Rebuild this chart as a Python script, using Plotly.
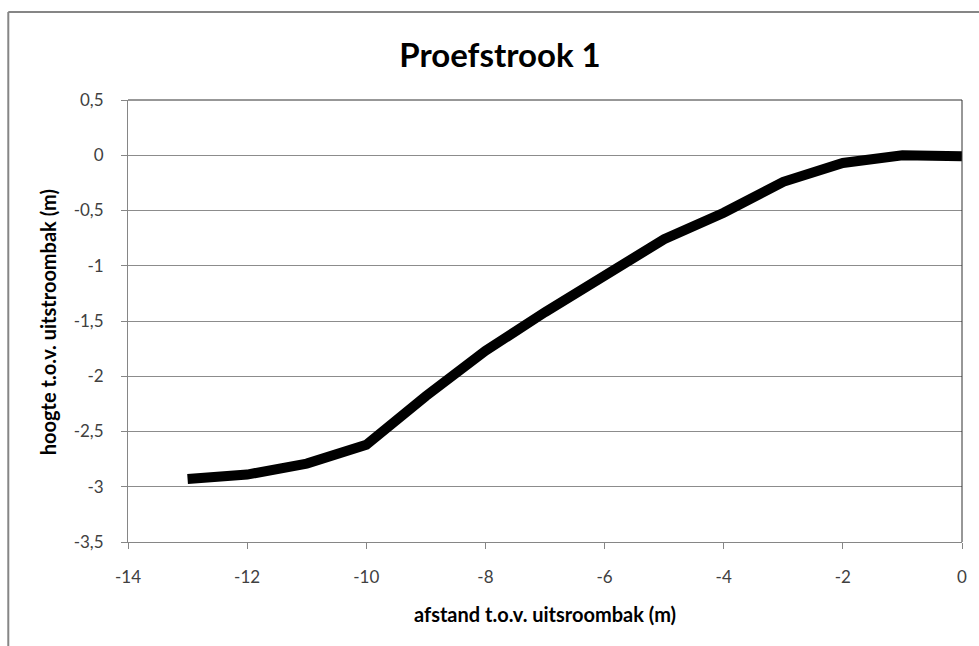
import plotly.graph_objects as go

afstand = [-13, -12, -11, -10, -9, -8, -7, -6, -5, -4, -3, -2, -1, 0]
hoogte = [-2.93, -2.89, -2.79, -2.62, -2.18, -1.77, -1.42, -1.10, -0.76, -0.52, -0.24, -0.07, 0.0, -0.01]

x_tickvals = [-14, -12, -10, -8, -6, -4, -2, 0]
x_ticktext = ["-14", "-12", "-10", "-8", "-6", "-4", "-2", "0"]
y_tickvals = [0.5, 0, -0.5, -1, -1.5, -2, -2.5, -3, -3.5]
y_ticktext = ["0,5", "0", "-0,5", "-1", "-1,5", "-2", "-2,5", "-3", "-3,5"]

FONT = "Lato"
W, H = 979, 646
L, R, T, B = 128, 15, 100, 104
pw = W - L - R
ph = H - T - B

fig = go.Figure()
fig.add_trace(go.Scatter(x=afstand, y=hoogte, mode="lines",
                         line=dict(color="black", width=10),
                         showlegend=False, cliponaxis=False))

fig.update_layout(
    width=W, height=H,
    margin=dict(l=L, r=R, t=T, b=B),
    paper_bgcolor="white", plot_bgcolor="white",
    font=dict(family=FONT, size=17, color="#404040"),
    title=dict(text="<b>Proefstrook 1</b>", x=(500) / W, xanchor="center",
               y=1 - 55 / H, yanchor="middle",
               font=dict(family=FONT, size=33, color="black")),
)
fig.update_xaxes(range=[-14, 0], tickvals=x_tickvals, ticktext=x_ticktext,
                 showgrid=False, zeroline=False, showline=True,
                 linecolor="#868686", linewidth=1,
                 ticks="outside", ticklen=6, tickcolor="#868686",
                 ticklabelstandoff=14,
                 tickfont=dict(size=17, color="#404040"))
fig.update_yaxes(range=[-3.5, 0.5], tickvals=y_tickvals, ticktext=y_ticktext,
                 showgrid=True, gridcolor="#8c8c8c", gridwidth=1,
                 zeroline=False, showline=True,
                 linecolor="#868686", linewidth=1,
                 ticks="outside", ticklen=6, tickcolor="#868686",
                 ticklabelstandoff=14,
                 tickfont=dict(size=17, color="#404040"))

# top and right plot-area borders
fig.add_shape(type="line", xref="paper", yref="paper", x0=0, x1=1, y0=1, y1=1,
              line=dict(color="#303030", width=1))
fig.add_shape(type="line", xref="paper", yref="paper", x0=1, x1=1, y0=0, y1=1,
              line=dict(color="#303030", width=1))

# outer chart border (left and top)
bx = (8 - L) / pw
by = 1 + (T - 12) / ph
fig.add_shape(type="line", xref="paper", yref="paper", x0=bx, x1=bx, y0=-(B + 5) / ph, y1=by,
              line=dict(color="#868686", width=2))
fig.add_shape(type="line", xref="paper", yref="paper", x0=bx, x1=1 + (R + 5) / pw, y0=by, y1=by,
              line=dict(color="#868686", width=2))

# axis titles
fig.add_annotation(text="<b>afstand t.o.v. uitsroombak (m)</b>", xref="paper", yref="paper",
                   x=0.5, y=-(614 - (T + ph)) / ph, xanchor="center", yanchor="middle",
                   showarrow=False, font=dict(family=FONT, size=20, color="black"))
fig.add_annotation(text="<b>hoogte t.o.v. uitstroombak (m)</b>", xref="paper", yref="paper",
                   x=(48 - L) / pw, y=1 - (322 - T) / ph, xanchor="center", yanchor="middle",
                   textangle=-90, showarrow=False,
                   font=dict(family=FONT, size=20, color="black"))

fig.write_html("out.html")
